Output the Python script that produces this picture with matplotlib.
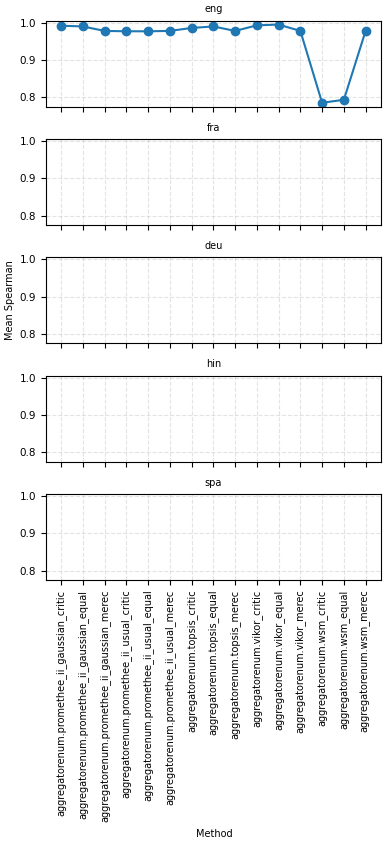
import matplotlib
matplotlib.use("Agg")
import matplotlib.pyplot as plt

methods = [
    "aggregatorenum.promethee_ii_gaussian_critic",
    "aggregatorenum.promethee_ii_gaussian_equal",
    "aggregatorenum.promethee_ii_gaussian_merec",
    "aggregatorenum.promethee_ii_usual_critic",
    "aggregatorenum.promethee_ii_usual_equal",
    "aggregatorenum.promethee_ii_usual_merec",
    "aggregatorenum.topsis_critic",
    "aggregatorenum.topsis_equal",
    "aggregatorenum.topsis_merec",
    "aggregatorenum.vikor_critic",
    "aggregatorenum.vikor_equal",
    "aggregatorenum.vikor_merec",
    "aggregatorenum.wsm_critic",
    "aggregatorenum.wsm_equal",
    "aggregatorenum.wsm_merec",
]
languages = ["eng", "fra", "deu", "hin", "spa"]
eng_values = [0.992, 0.990, 0.978, 0.977, 0.977, 0.978, 0.986, 0.990, 0.978,
              0.993, 0.995, 0.978, 0.785, 0.793, 0.978]
series = {"eng": eng_values}

fig, axes = plt.subplots(len(languages), 1, figsize=(3.89, 8.44), dpi=100,
                         sharex=True, sharey=True)
x = list(range(len(methods)))
for ax, lang in zip(axes, languages):
    if lang in series:
        ax.plot(x, series[lang], marker="o", color="#1f77b4", linewidth=1.5,
                markersize=6)
    ax.set_title(lang, fontsize=7)
    ax.grid(True, linestyle="--", alpha=0.35)
    ax.tick_params(labelsize=7.5)

axes[-1].set_xticks(x)
axes[-1].set_xticklabels(methods, rotation=90, fontsize=7)
axes[-1].set_xlim(-0.5 - 0.2, len(methods) - 0.5 + 0.2)
axes[0].set_yticks([0.8, 0.9, 1.0])

fig.subplots_adjust(left=0.118, right=0.979, top=0.9755, bottom=0.3128,
                    hspace=0.376)
fig.text(0.026, 0.645, "Mean Spearman", rotation=90, ha="center",
         va="center", fontsize=7)
fig.text(0.55, 0.012, "Method", ha="center", va="center", fontsize=7)
fig.savefig("out.png", dpi=100)
